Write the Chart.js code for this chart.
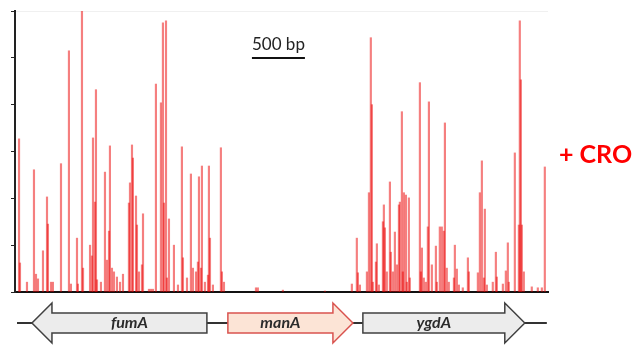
<!DOCTYPE html>
<html>
<head>
<meta charset="utf-8">
<script src="https://cdn.jsdelivr.net/npm/chart.js@4"></script>
<style>
  html, body { margin: 0; padding: 0; background: #fff; }
  #wrap { width: 640px; height: 362px; position: relative; }
</style>
</head>
<body>
<div id="wrap"><canvas id="cov"></canvas></div>
<script>
// read coverage spikes (position in bp, relative read depth)
const spikePos = [
  38, 47, 113, 179, 198, 217, 264, 302, 311, 340, 358, 434, 509, 528, 585, 594,
  632, 642, 708, 726, 736, 755, 764, 774, 811, 849, 868, 887, 896, 915, 934, 962,
  991, 1019, 1075, 1085, 1104, 1113, 1142, 1151, 1170, 1198, 1208, 1264, 1283, 1302,
  1330, 1377, 1396, 1406, 1425, 1434, 1453, 1500, 1538, 1575, 1585, 1623, 1660, 1679,
  1708, 1726, 1736, 1755, 1764, 1792, 1821, 1830, 1840, 1868, 1943, 1953, 1972,
  2274, 2292, 2528, 2925,
  3179, 3226, 3236, 3255, 3321, 3340, 3358, 3368, 3377, 3406, 3415, 3434, 3472, 3481,
  3491, 3509, 3538, 3547, 3566, 3585, 3604, 3623, 3632, 3651, 3660, 3670, 3689, 3698,
  3717, 3726, 3821, 3830, 3840, 3858, 3877, 3896, 3906, 3934, 3972, 3981, 4009, 4028,
  4047, 4057, 4075, 4094, 4142, 4151, 4170, 4189, 4226, 4274, 4283, 4368, 4387, 4406,
  4425, 4434, 4453, 4509, 4538, 4547, 4604, 4632, 4651, 4660, 4717, 4755, 4764, 4774,
  4783, 4802, 4877, 4934, 4972, 5000
];
const spikeVal = [
  3.27, 0.62, 0.21, 2.61, 0.38, 0.28, 0.88, 2.03, 1.45, 0.21, 0.21, 2.74, 5.15, 0.17, 1.15, 0.17,
  6.0, 0.51, 1.0, 0.77, 3.29, 1.92, 4.32, 0.26, 0.21, 2.56, 0.68, 1.30, 3.12, 0.51, 0.43, 0.32,
  0.21, 0.38, 1.90, 2.33, 3.14, 2.86, 2.05, 1.43, 0.43, 0.58, 1.67, 0.06, 0.06, 0.06,
  4.44, 4.04, 5.75, 1.90, 5.79, 0.30, 1.56, 1.0, 0.15, 3.10, 0.73, 0.30, 2.52, 0.51,
  0.43, 0.64, 2.46, 0.51, 2.69, 0.21, 0.36, 2.69, 1.15, 0.15, 3.08, 0.43, 0.21,
  0.09, 0.09, 0.04, 0.02,
  0.17, 1.15, 0.41, 0.15, 0.43, 2.12, 5.43, 4.0, 0.21, 0.64, 1.03, 0.15, 1.50, 1.86,
  1.37, 0.43, 2.35, 0.85, 0.43, 1.28, 0.58, 1.86, 1.92, 3.85, 0.43, 2.12, 2.07, 0.21,
  2.01, 0.30, 4.47, 0.43, 0.94, 0.30, 0.21, 1.39, 4.06, 0.58, 0.98, 0.21, 1.39, 1.39,
  1.30, 3.61, 0.51, 0.21, 0.30, 1.0, 0.49, 0.15, 0.09, 0.73, 0.43, 0.41, 2.12, 2.80,
  0.30, 1.77, 0.15, 0.21, 0.85, 0.32, 0.17, 0.45, 1.05, 0.21, 2.97, 1.43, 5.79, 4.53,
  1.43, 0.43, 0.11, 0.09, 0.09, 2.67
];

// gene map (bp)
const geneNames = ["fumA", "manA", "ygdA"];
const geneStart = [160, 2009, 3283];
const geneEnd = [1811, 3189, 4811];
const geneStrand = [-1, 1, 1];
const locusStart = 19;
const locusEnd = 5019;

const regionMax = 5030;
const scaleBarStart = 2236;
const scaleBarLen = 500;
const sampleLabel = "+ CRO";

// draws the scale bar, condition label and the gene arrows
const annotations = {
  id: "annotations",
  afterDraw(chart) {
    const ctx = chart.ctx;
    const x = chart.scales.x;
    ctx.save();

    // scale bar
    const sb0 = x.getPixelForValue(scaleBarStart);
    const sb1 = x.getPixelForValue(scaleBarStart + scaleBarLen);
    ctx.fillStyle = "#222";
    ctx.font = "17px Lato, 'Open Sans', sans-serif";
    ctx.textAlign = "center";
    ctx.textBaseline = "alphabetic";
    ctx.fillText(scaleBarLen + " bp", (sb0 + sb1) / 2, 50);
    ctx.strokeStyle = "#111";
    ctx.lineWidth = 2;
    ctx.beginPath();
    ctx.moveTo(sb0, 58);
    ctx.lineTo(sb1, 58);
    ctx.stroke();

    // condition label
    ctx.fillStyle = "#f00";
    ctx.font = "bold 25px Lato, 'Open Sans', sans-serif";
    ctx.textAlign = "left";
    ctx.textBaseline = "middle";
    ctx.fillText(sampleLabel, 559, 155);

    // genes
    const yc = 323;
    ctx.strokeStyle = "#333";
    ctx.lineWidth = 2;
    ctx.beginPath();
    ctx.moveTo(x.getPixelForValue(locusStart), yc);
    ctx.lineTo(x.getPixelForValue(locusEnd), yc);
    ctx.stroke();

    const head = 20, body = 10, wing = 20;
    geneNames.forEach((name, i) => {
      const a = x.getPixelForValue(geneStart[i]);
      const b = x.getPixelForValue(geneEnd[i]);
      const isMan = name === "manA";
      ctx.beginPath();
      if (geneStrand[i] > 0) {
        ctx.moveTo(a, yc - body);
        ctx.lineTo(b - head, yc - body);
        ctx.lineTo(b - head, yc - wing);
        ctx.lineTo(b, yc);
        ctx.lineTo(b - head, yc + wing);
        ctx.lineTo(b - head, yc + body);
        ctx.lineTo(a, yc + body);
      } else {
        ctx.moveTo(b, yc - body);
        ctx.lineTo(a + head, yc - body);
        ctx.lineTo(a + head, yc - wing);
        ctx.lineTo(a, yc);
        ctx.lineTo(a + head, yc + wing);
        ctx.lineTo(a + head, yc + body);
        ctx.lineTo(b, yc + body);
      }
      ctx.closePath();
      ctx.fillStyle = isMan ? "#fce4d6" : "#ececec";
      ctx.fill();
      ctx.lineWidth = 1.5;
      ctx.strokeStyle = isMan ? "#d9534f" : "#404040";
      ctx.stroke();

      ctx.fillStyle = "#2b2b2b";
      ctx.font = "italic bold 16px Lato, 'Open Sans', sans-serif";
      ctx.textAlign = "center";
      ctx.textBaseline = "middle";
      const cx = geneStrand[i] > 0 ? (a + b - head) / 2 : (a + head + b) / 2;
      ctx.fillText(name, cx, yc);
    });

    ctx.restore();
  }
};

const data = spikePos.map((p, i) => ({ x: p, y: spikeVal[i] }));

new Chart(document.getElementById("cov"), {
  type: "bar",
  data: {
    datasets: [{
      label: sampleLabel,
      data,
      backgroundColor: "rgba(235, 0, 0, 0.5)",
      borderWidth: 0,
      barThickness: 1.5,
    }],
  },
  options: {
    responsive: true,
    maintainAspectRatio: false,
    animation: false,
    layout: { padding: { left: 11, top: 11, right: 92, bottom: 70 } },
    plugins: {
      legend: { display: false },
      tooltip: { enabled: false },
    },
    scales: {
      x: {
        type: "linear",
        min: 0,
        max: regionMax,
        offset: false,
        grid: { display: false, offset: false, drawTicks: false },
        ticks: { display: false },
        border: { display: true, color: "#111", width: 2 },
      },
      y: {
        min: 0,
        max: 6,
        ticks: { display: false, stepSize: 1 },
        grid: {
          color: (c) => (c.tick && c.tick.value === 6 ? "#f0f0f0" : "rgba(0,0,0,0)"),
          tickColor: "#222",
          tickLength: 4,
          lineWidth: 1,
        },
        border: { display: true, color: "#222", width: 2 },
      },
    },
  },
  plugins: [annotations],
});
</script>
</body>
</html>
